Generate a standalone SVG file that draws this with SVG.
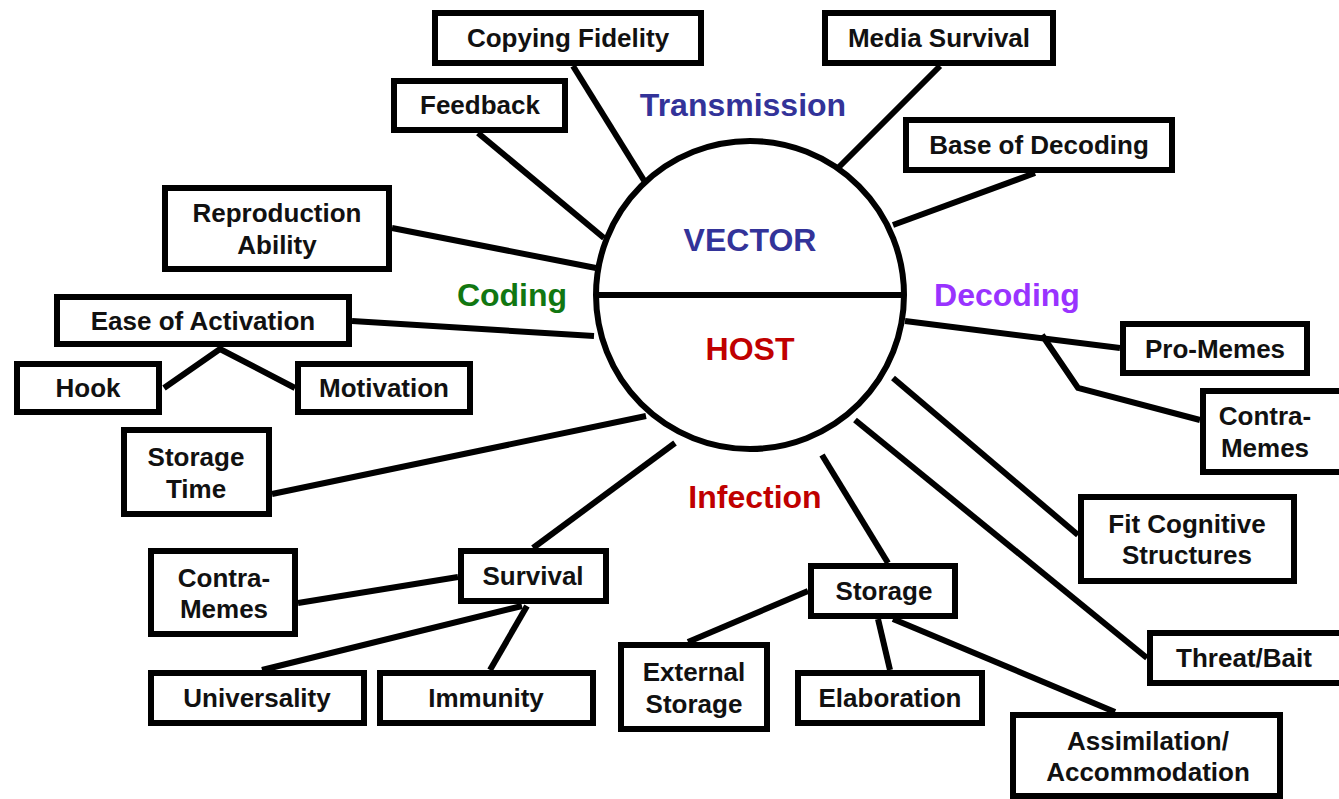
<svg xmlns="http://www.w3.org/2000/svg" width="1339" height="799" viewBox="0 0 1339 799">
<style>
.box{fill:#fff;stroke:#000;stroke-width:6}
.t{font-family:"Liberation Sans",Arial,sans-serif;font-weight:bold;font-size:26px;fill:#111;text-anchor:middle}
.c{font-family:"Liberation Sans",Arial,sans-serif;font-weight:bold;font-size:32px;text-anchor:middle}
.ln{stroke:#000;stroke-width:6;fill:none;stroke-linecap:butt}
</style>
<rect width="1339" height="799" fill="#fff"/>
<g id="connectors" class="ln">
<line x1="573" y1="66" x2="645" y2="182"/>
<line x1="478" y1="133" x2="604" y2="238"/>
<line x1="392" y1="228" x2="596" y2="268"/>
<line x1="352" y1="321" x2="594" y2="336"/>
<polyline points="164,388 220,349 295,388"/>
<line x1="272" y1="494" x2="646" y2="416"/>
<line x1="533" y1="548" x2="675" y2="443"/>
<line x1="458" y1="577" x2="298" y2="603"/>
<line x1="522" y1="606" x2="262" y2="670"/>
<line x1="527" y1="606" x2="490" y2="670"/>
<line x1="822" y1="455" x2="888" y2="563"/>
<line x1="808" y1="591" x2="688" y2="642"/>
<line x1="878" y1="619" x2="890" y2="670"/>
<line x1="893" y1="619" x2="1115" y2="712"/>
<line x1="855" y1="420" x2="1147" y2="658"/>
<line x1="893" y1="378" x2="1078" y2="535"/>
<line x1="905" y1="321" x2="1120" y2="348"/>
<polyline points="1042,335 1078,388 1200,420"/>
<line x1="893" y1="225" x2="1035" y2="173"/>
<line x1="838" y1="168" x2="940" y2="66"/>
</g>
<g id="host-vector">
<circle cx="750" cy="295" r="154" fill="#fff" stroke="#000" stroke-width="6"/>
<line x1="596" y1="295" x2="904" y2="295" stroke="#000" stroke-width="6"/>
<text class="c" x="750" y="251" fill="#333399">VECTOR</text>
<text class="c" x="750" y="360" fill="#c00000">HOST</text>
</g>
<g id="labels">
<text class="c" x="743" y="116" fill="#333399">Transmission</text>
<text class="c" x="512" y="306" fill="#117711">Coding</text>
<text class="c" x="1007" y="306" fill="#9933ff">Decoding</text>
<text class="c" x="755" y="508" fill="#c00000">Infection</text>
</g>
<g id="copying-fidelity"><rect class="box" x="435" y="13" width="266" height="50"/><text class="t" x="568" y="47">Copying Fidelity</text></g>
<g id="media-survival"><rect class="box" x="825" y="13" width="228" height="50"/><text class="t" x="939" y="47">Media Survival</text></g>
<g id="feedback"><rect class="box" x="394" y="81" width="171" height="49"/><text class="t" x="480" y="114">Feedback</text></g>
<g id="base-of-decoding"><rect class="box" x="906" y="120" width="266" height="50"/><text class="t" x="1039" y="154">Base of Decoding</text></g>
<g id="reproduction-ability"><rect class="box" x="165" y="188" width="224" height="81"/><text class="t" x="277" y="222">Reproduction</text><text class="t" x="277" y="254">Ability</text></g>
<g id="ease-of-activation"><rect class="box" x="57" y="297" width="292" height="47"/><text class="t" x="203" y="330">Ease of Activation</text></g>
<g id="hook"><rect class="box" x="17" y="364" width="142" height="48"/><text class="t" x="88" y="397">Hook</text></g>
<g id="motivation"><rect class="box" x="298" y="364" width="172" height="48"/><text class="t" x="384" y="397">Motivation</text></g>
<g id="storage-time"><rect class="box" x="124" y="430" width="145" height="84"/><text class="t" x="196" y="466">Storage</text><text class="t" x="196" y="498">Time</text></g>
<g id="pro-memes"><rect class="box" x="1123" y="324" width="184" height="49"/><text class="t" x="1215" y="358">Pro-Memes</text></g>
<g id="contra-memes-right"><rect class="box" x="1203" y="391" width="140" height="81"/><text class="t" x="1265" y="425">Contra-</text><text class="t" x="1265" y="457">Memes</text></g>
<g id="fit-cognitive"><rect class="box" x="1081" y="497" width="213" height="84"/><text class="t" x="1187" y="533">Fit Cognitive</text><text class="t" x="1187" y="564">Structures</text></g>
<g id="threat-bait"><rect class="box" x="1150" y="633" width="192" height="50"/><text class="t" x="1244" y="667">Threat/Bait</text></g>
<g id="contra-memes-left"><rect class="box" x="151" y="551" width="144" height="83"/><text class="t" x="224" y="587">Contra-</text><text class="t" x="224" y="618">Memes</text></g>
<g id="survival"><rect class="box" x="461" y="551" width="145" height="50"/><text class="t" x="533" y="585">Survival</text></g>
<g id="universality"><rect class="box" x="151" y="673" width="213" height="50"/><text class="t" x="257" y="707">Universality</text></g>
<g id="immunity"><rect class="box" x="380" y="673" width="213" height="50"/><text class="t" x="486" y="707">Immunity</text></g>
<g id="storage"><rect class="box" x="811" y="566" width="144" height="50"/><text class="t" x="884" y="600">Storage</text></g>
<g id="external-storage"><rect class="box" x="621" y="645" width="146" height="84"/><text class="t" x="694" y="681">External</text><text class="t" x="694" y="713">Storage</text></g>
<g id="elaboration"><rect class="box" x="798" y="673" width="184" height="50"/><text class="t" x="890" y="707">Elaboration</text></g>
<g id="assimilation"><rect class="box" x="1013" y="715" width="267" height="81"/><text class="t" x="1148" y="750">Assimilation/</text><text class="t" x="1148" y="781">Accommodation</text></g>
</svg>
